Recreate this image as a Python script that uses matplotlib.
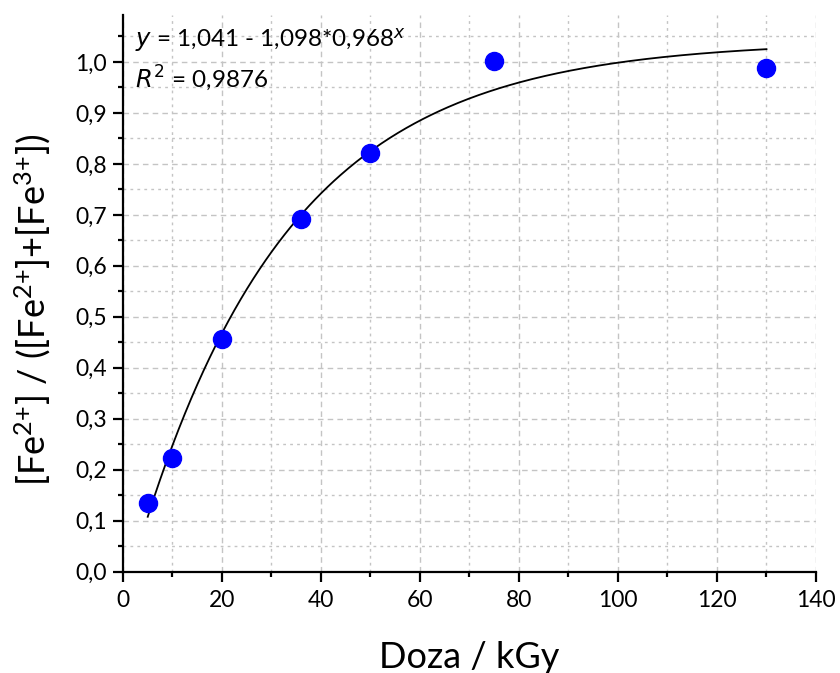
import numpy as np
import matplotlib.pyplot as plt
from matplotlib.ticker import MultipleLocator, FuncFormatter

plt.rcParams['font.family'] = ['Lato', 'DejaVu Sans']
plt.rcParams['mathtext.default'] = 'regular'

# measured points
doza = [5, 10, 20, 36, 50, 75, 130]
frakcja = [0.135, 0.223, 0.456, 0.691, 0.821, 1.001, 0.989]

# fit parameters from the chart: y = a - b*c^x
fit_a = 1.041
fit_b = 1.098
fit_c = 0.968
fit_r2 = "0,9876"

fig = plt.figure(figsize=(8.4, 6.73), dpi=100)
ax = fig.add_axes([0.1464, 0.1505, 0.8250, 0.8272])

xf = np.linspace(min(doza), max(doza), 300)
ax.plot(xf, fit_a - fit_b * fit_c ** xf, color='black', lw=1.3, zorder=3)
ax.plot(doza, frakcja, 'o', color='#0000ff', ms=13, zorder=4)

ax.set_xlim(0, 140)
ax.set_ylim(0, 1.092)
ax.xaxis.set_major_locator(MultipleLocator(20))
ax.xaxis.set_minor_locator(MultipleLocator(10))
ax.yaxis.set_major_locator(MultipleLocator(0.1))
ax.yaxis.set_minor_locator(MultipleLocator(0.05))
ax.yaxis.set_major_formatter(FuncFormatter(lambda v, p: ("%.1f" % v).replace('.', ',')))

ax.grid(which='major', color='#c4c4c4', ls=(0, (4, 3)), lw=1)
ax.grid(which='minor', color='#c4c4c4', ls=(0, (2, 3)), lw=1)
ax.set_axisbelow(True)

for s in ['top', 'right']:
    ax.spines[s].set_visible(False)
for s in ['left', 'bottom']:
    ax.spines[s].set_linewidth(1.6)
ax.tick_params(which='major', direction='out', length=7.5, width=1.6, labelsize=16.5)
ax.tick_params(axis='x', which='major', pad=6)
ax.tick_params(axis='y', which='major', pad=4)
ax.tick_params(which='minor', direction='out', length=3.8, width=1.6)

ax.set_xlabel('Doza / kGy', fontsize=26, labelpad=21)
ax.set_ylabel('[Fe$^{2{+}}$] / ([Fe$^{2{+}}$]+[Fe$^{3{+}}$])', fontsize=26)
ax.yaxis.set_label_coords(-0.101, 0.47)

ax.text(0.017, 0.9425, '$\\it{y}$ = 1,041 - 1,098*0,968$^{\\it{x}}$', transform=ax.transAxes,
        fontsize=17.5, va='baseline')
ax.text(0.017, 0.8707, '$\\it{R}^2$ = ' + fit_r2, transform=ax.transAxes,
        fontsize=17.5, va='baseline')

fig.savefig('out.png', dpi=100)
